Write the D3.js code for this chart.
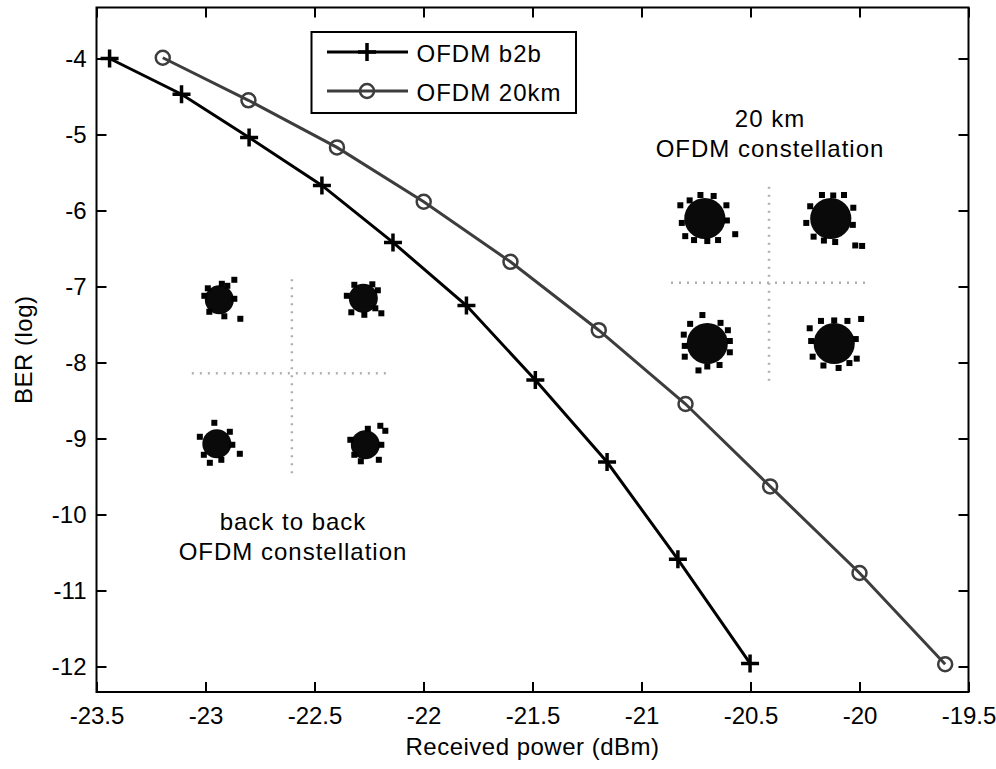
<!DOCTYPE html>
<html>
<head>
<meta charset="utf-8">
<script src="https://cdn.jsdelivr.net/npm/d3@7"></script>
<style>
  html, body { margin: 0; padding: 0; background: #fff; }
  svg { display: block; }
  text { font-family: "Liberation Sans", Arial, sans-serif; fill: #000; }
</style>
</head>
<body>
<svg id="chart" width="996" height="769"></svg>
<script>
// ---------------- data ----------------
const b2bPower = [-23.44, -23.11, -22.80, -22.466, -22.14, -21.803, -21.487, -21.158, -20.833, -20.502];
const b2bBER   = [-4.00, -4.47, -5.04, -5.67, -6.42, -7.25, -8.23, -9.31, -10.59, -11.96];
const km20Power = [-23.196, -22.803, -22.397, -21.999, -21.601, -21.196, -20.798, -20.41, -20.0, -19.607];
const km20BER   = [-3.99, -4.55, -5.17, -5.885, -6.675, -7.575, -8.546, -9.63, -10.77, -11.97];
const seriesNames = ["OFDM b2b", "OFDM 20km"];
const xTicks = [-23.5, -23, -22.5, -22, -21.5, -21, -20.5, -20, -19.5];
const xTickLabels = ["-23.5", "-23", "-22.5", "-22", "-21.5", "-21", "-20.5", "-20", "-19.5"];
const yTicks = [-4, -5, -6, -7, -8, -9, -10, -11, -12];
const yTickLabels = ["-4", "-5", "-6", "-7", "-8", "-9", "-10", "-11", "-12"];
const xLabel = "Received power (dBm)";
const yLabel = "BER (log)";

// constellation insets (I/Q symbol cluster centres, cluster radius, stray samples)
const b2bConstCenters = [[-1.45, 1.47], [1.43, 1.5], [-1.5, -1.41], [1.47, -1.43]];
const b2bConstRadius = 0.29;
const b2bConstStray = [
  [[0.3, 0.4], [0.42, -0.38], [0.1, -0.33], [-0.3, 0.08], [0.16, 0.28], [-0.2, -0.24], [0.3, 0.02], [-0.23, 0.23], [0.05, 0.32]],
  [[0.36, -0.3], [-0.24, -0.28], [-0.33, 0.05], [0.18, 0.28], [0.02, -0.33], [0.29, 0.16], [-0.18, 0.27], [0.24, -0.2]],
  [[-0.05, 0.42], [0.46, -0.2], [-0.34, 0.14], [-0.14, -0.38], [0.26, 0.24], [-0.26, -0.22], [0.31, -0.02], [0.09, -0.32]],
  [[0.3, 0.38], [0.4, 0.28], [-0.3, 0.1], [0.27, -0.3], [-0.09, -0.33], [-0.22, -0.2], [0.05, 0.32], [0.32, 0.0]]
];
const km20ConstCenters = [[-1.31, 1.31], [1.26, 1.31], [-1.26, -1.24], [1.33, -1.24]];
const km20ConstRadius = 0.42;
const km20ConstStray = [
  [[-0.5, 0.27], [0.44, 0.27], [0.62, -0.32], [-0.09, 0.48], [0.18, 0.46], [-0.4, -0.36], [0.27, -0.44], [-0.47, -0.09], [0.45, -0.04], [-0.22, -0.44], [0.05, -0.46], [-0.31, 0.37]],
  [[-0.5, -0.09], [0.5, -0.55], [0.64, -0.56], [0.27, 0.48], [-0.18, 0.48], [0.46, 0.22], [-0.35, -0.37], [0.09, -0.48], [-0.42, 0.25], [0.45, -0.13], [0.05, 0.47], [-0.14, -0.45]],
  [[-0.1, 0.58], [0.46, -0.18], [-0.46, -0.27], [0.27, 0.42], [-0.18, -0.55], [0.42, 0.27], [-0.48, 0.18], [0.25, -0.44], [-0.35, 0.4], [0.0, -0.47], [-0.46, -0.05], [0.46, 0.05]],
  [[-0.5, 0.31], [0.55, 0.5], [0.27, 0.46], [-0.44, -0.27], [0.46, -0.31], [0.09, -0.5], [-0.27, 0.46], [0.44, 0.09], [-0.47, 0.05], [-0.22, -0.45], [0.31, -0.4], [0.0, 0.47]]
];
const insetNotes = [
  { lines: ["back to back", "OFDM constellation"] },
  { lines: ["20 km", "OFDM constellation"] }
];

// ---------------- layout ----------------
const plot = { left: 96.5, right: 968.5, top: 7.5, bottom: 692 };
const svg = d3.select("#chart");

const x = d3.scaleLinear().domain([-23.5, -19.5]).range([plot.left, plot.right]);
const yPerUnit = 76;
const y = d3.scaleLinear().domain([-12, -4]).range([666.5, 666.5 - 8 * yPerUnit]);

const gAxes = svg.append("g");

const gx = gAxes.append("g").attr("transform", `translate(0,${plot.bottom})`)
  .call(d3.axisBottom(x).tickValues(xTicks).tickFormat((d, i) => xTickLabels[i]).tickSizeInner(-10).tickSizeOuter(0));
gx.selectAll("text").attr("y", 32).attr("dy", 0).style("font-size", "24px");
gAxes.append("g").attr("transform", `translate(0,${plot.top})`)
  .call(d3.axisTop(x).tickValues(xTicks).tickFormat("").tickSizeInner(-10).tickSizeOuter(0));
const gy = gAxes.append("g").attr("transform", `translate(${plot.left},0)`)
  .call(d3.axisLeft(y).tickValues(yTicks).tickFormat((d, i) => yTickLabels[i]).tickSizeInner(-10).tickSizeOuter(0));
gy.selectAll("text").attr("x", -10).attr("dy", "0.33em").style("font-size", "24px");
gAxes.append("g").attr("transform", `translate(${plot.right},0)`)
  .call(d3.axisRight(y).tickValues(yTicks).tickFormat("").tickSizeInner(-10).tickSizeOuter(0));

gAxes.selectAll(".domain").remove();
gAxes.selectAll(".tick line").attr("stroke", "#000").attr("stroke-width", 2);
gAxes.selectAll(".tick text").attr("fill", "#000").style("font-family", '"Liberation Sans", Arial, sans-serif');

svg.append("rect")
  .attr("x", plot.left).attr("y", plot.top)
  .attr("width", plot.right - plot.left).attr("height", plot.bottom - plot.top)
  .attr("fill", "none").attr("stroke", "#000").attr("stroke-width", 2);

svg.append("text").attr("x", (plot.left + plot.right) / 2).attr("y", 755)
  .attr("text-anchor", "middle").style("font-size", "24px").style("letter-spacing", "0.5px").text(xLabel);
svg.append("text").attr("transform", `translate(32,${(plot.top + plot.bottom) / 2}) rotate(-90)`)
  .attr("text-anchor", "middle").style("font-size", "24px").style("letter-spacing", "0.5px").text(yLabel);

// ---------------- constellation insets ----------------
const insets = [
  { cx: -22.604, cy: -8.142, half: 100, centers: b2bConstCenters, radius: b2bConstRadius, stray: b2bConstStray, note: insetNotes[0], noteX: 293, noteY: 530 },
  { cx: -20.415, cy: -6.95, half: 98, centers: km20ConstCenters, radius: km20ConstRadius, stray: km20ConstStray, note: insetNotes[1], noteX: 770, noteY: 127 }
];

insets.forEach(ins => {
  const px = x(ins.cx), py = y(ins.cy);
  const ix = d3.scaleLinear().domain([-2, 2]).range([px - ins.half, px + ins.half]);
  const iy = d3.scaleLinear().domain([-2, 2]).range([py + ins.half, py - ins.half]);
  const g = svg.append("g");
  g.append("line").attr("x1", ix(-2)).attr("x2", ix(2)).attr("y1", iy(0)).attr("y2", iy(0))
    .attr("stroke", "#b0b0b0").attr("stroke-width", 2.5).attr("stroke-dasharray", "2,6");
  g.append("line").attr("x1", ix(0)).attr("x2", ix(0)).attr("y1", iy(-2)).attr("y2", iy(2))
    .attr("stroke", "#b0b0b0").attr("stroke-width", 2.5).attr("stroke-dasharray", "2,6");
  const unit = ix(1) - ix(0);
  ins.centers.forEach((c, k) => {
    g.append("circle").attr("cx", ix(c[0])).attr("cy", iy(c[1]))
      .attr("r", ins.radius * unit).attr("fill", "#0a0a0a");
    g.selectAll(null).data(ins.stray[k]).enter().append("rect")
      .attr("x", d => ix(c[0] + d[0]) - 3).attr("y", d => iy(c[1] + d[1]) - 3)
      .attr("width", 6).attr("height", 6).attr("fill", "#000");
  });
  ins.note.lines.forEach((t, j) => {
    svg.append("text").attr("x", ins.noteX).attr("y", ins.noteY + j * 30)
      .attr("text-anchor", "middle").style("font-size", "24px").style("letter-spacing", "1px").text(t);
  });
});

// ---------------- series ----------------
const line = d3.line().x(d => x(d[0])).y(d => y(d[1]));
const b2bData = b2bPower.map((p, i) => [p, b2bBER[i]]);
const km20Data = km20Power.map((p, i) => [p, km20BER[i]]);

const col20 = "#3d3d3d";
svg.append("path").datum(km20Data).attr("d", line)
  .attr("fill", "none").attr("stroke", col20).attr("stroke-width", 3);
svg.selectAll(null).data(km20Data).enter().append("circle")
  .attr("cx", d => x(d[0])).attr("cy", d => y(d[1])).attr("r", 7)
  .attr("fill", "none").attr("stroke", col20).attr("stroke-width", 2.5);

svg.append("path").datum(b2bData).attr("d", line)
  .attr("fill", "none").attr("stroke", "#000").attr("stroke-width", 3);
const plusPath = s => `M${-s},0H${s}M0,${-s}V${s}`;
svg.selectAll(null).data(b2bData).enter().append("path")
  .attr("transform", d => `translate(${x(d[0])},${y(d[1])})`)
  .attr("d", plusPath(9)).attr("fill", "none").attr("stroke", "#000").attr("stroke-width", 3.5);

// ---------------- legend ----------------
const lg = svg.append("g");
lg.append("rect").attr("x", 311.5).attr("y", 32).attr("width", 264.5).attr("height", 81)
  .attr("fill", "#fff").attr("stroke", "#000").attr("stroke-width", 2);
const legendRows = [
  { name: seriesNames[0], color: "#000", marker: "plus", y: 52 },
  { name: seriesNames[1], color: col20, marker: "circle", y: 91 }
];
legendRows.forEach(r => {
  lg.append("line").attr("x1", 327).attr("x2", 408).attr("y1", r.y).attr("y2", r.y)
    .attr("stroke", r.color).attr("stroke-width", 3);
  if (r.marker === "plus") {
    lg.append("path").attr("transform", `translate(367,${r.y})`).attr("d", plusPath(9))
      .attr("stroke", r.color).attr("stroke-width", 3.5);
  } else {
    lg.append("circle").attr("cx", 367).attr("cy", r.y).attr("r", 7)
      .attr("fill", "none").attr("stroke", r.color).attr("stroke-width", 2.5);
  }
  lg.append("text").attr("x", 416.5).attr("y", r.y + 9.5).style("font-size", "24px")
    .style("letter-spacing", "1px").text(r.name);
});
</script>
</body>
</html>
